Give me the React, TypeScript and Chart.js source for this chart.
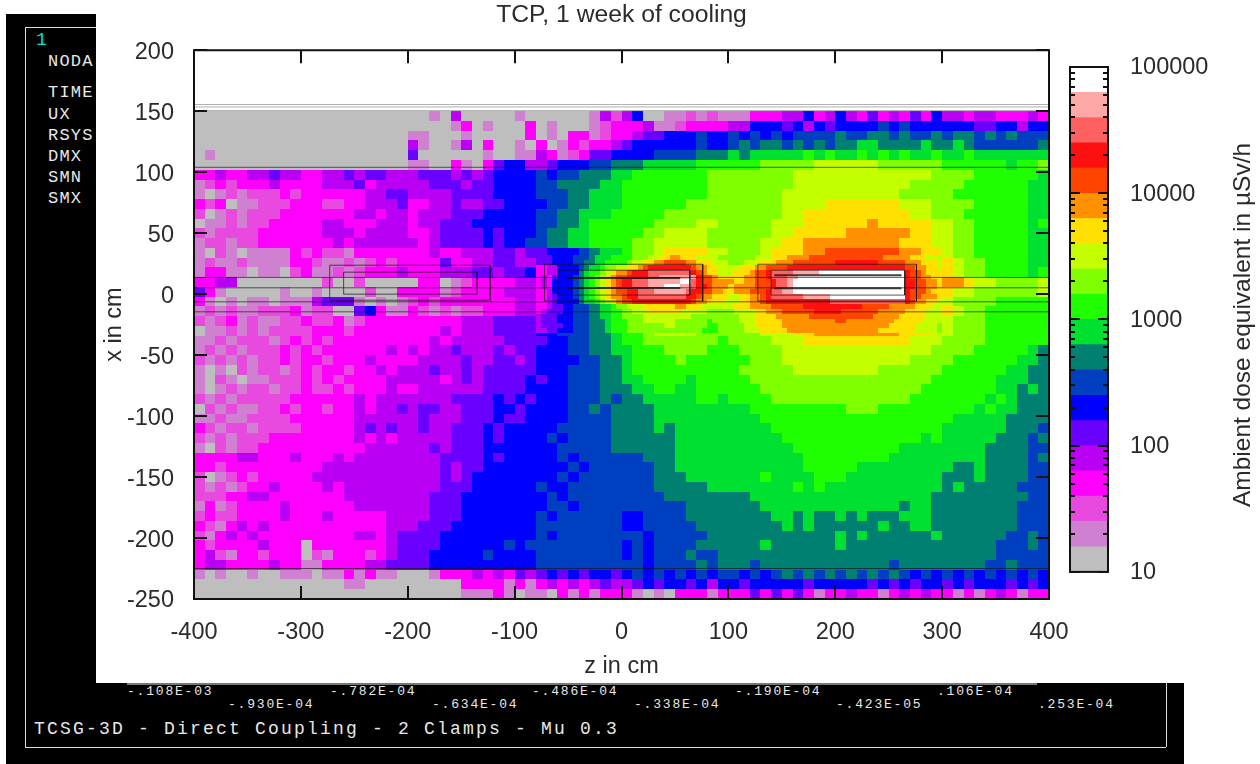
import React, { useEffect, useRef } from "react";
import { Chart, registerables } from "chart.js";
Chart.register(...registerables);

const chartTitle = "TCP, 1 week of cooling";
const xTitle = "z in cm";
const yTitle = "x in cm";
const barTitle = "Ambient dose equivalent in µSv/h";
const sideLabels = [["NODA", 61], ["TIME", 92], ["UX", 114], ["RSYS", 135], ["DMX", 156], ["SMN", 177], ["SMX", 198]] as const;
const footerTicks = [
  ["-.108E-03", 127, 691], ["-.930E-04", 228, 704], ["-.782E-04", 330, 691], ["-.634E-04", 432, 704], ["-.486E-04", 532, 691],
  ["-.338E-04", 634, 704], ["-.190E-04", 735, 691], ["-.423E-05", 836, 704], [".106E-04", 937, 691], [".253E-04", 1038, 704],
] as const;
const footerTitle = "TCSG-3D - Direct Coupling - 2 Clamps - Mu 0.3";

const levelKeys = "0123456789abcdefghij";
const levelColors = ["#bebebe", "#d080d0", "#e84ae0", "#ff00ff", "#b900f5", "#6a00ff", "#0000ff", "#0040c0", "#008070", "#00e030",
  "#20ff00", "#80ff00", "#c4ff00", "#ffe000", "#ff9000", "#ff4400", "#ff1010", "#ff6060", "#ffa8a8", "#ffffff"];
const colorEdges = [10, 15.8, 25.1, 39.8, 63.1, 100, 158, 251, 398, 631, 1000, 1585, 2512, 3981, 6310, 10000, 15849, 25119, 39811, 63096, 100000];
const barTicks = [10, 20, 30, 40, 50, 60, 70, 80, 90, 100, 200, 300, 400, 500, 600, 700, 800, 900, 1000, 2000, 3000, 4000, 5000, 6000, 7000, 8000, 9000,
  10000, 20000, 30000, 40000, 50000, 60000, 70000, 80000, 90000, 100000];

// dose class per cell: z from -400 in 10 cm steps, x from 150 down in 8 cm steps
const coarseRows = [
  "0000000000 0000000000 0010400000 1000000142 4600112121 1133344634 6435343536 4434433343",
  "0000000000 0000000000 0000130100 0301000123 3341123333 4466656465 6666767666 6665566466",
  "0000000000 0000000000 1100010000 0301033123 3455666766 7676767777 8778878778 7887878777",
  "0000000000 0000000000 4100140300 1030132334 5666666766 7878878787 8899888898 8987777778",
  "0100000000 0000000000 5000000100 1143123556 6667777888 9899999a9a 99a9a9a99a 99a9999999",
  "0000000000 0000000000 1100310356 6445666778 8899999aaa aaabbbbbcc ccccbbbbbb aaaaaa9aab",
  "3343344544 3344545544 4555454566 6676778889 9aaaaaaabb bbbbbbcccc cccccccccb bbbaaaaaa9",
  "1232333433 3344453444 4455545566 6677888899 aaaaaaaabb bbbbbbcccc cccccccbbb bbaaaaaa99",
  "1012122232 3333334455 4444555566 6677788999 aaaaaaaabb bbbbbccccc ccccccbbbb baaaaaaa99",
  "3230112223 3322334445 3344544556 6667788999 aaaaaabbbb bbbbbccccd ddddddcccb bbbaaaaa99",
  "2012122233 3333344344 3444555666 667788999a aaaabbbbbb bbbbbccddd dddddddccb bbaaaaaa99",
  "0112122333 3344333444 3445556666 6677889aaa aaabbbbccb bbbbcccddd dddedddddc cbbaaaaa9a",
  "2122223333 3344434444 3345555656 6678899aaa aabbccccbb bbbbccdddd deeeeeeddc cbbaaaaa99",
  "1221223333 3334344444 4345555656 6778899aaa abbcccccbb bbbccddeee eeeeeedddc cbbaaaaa99",
  "1021011113 2322133333 3343344455 4556667899 abbcddddcc bbbcdddeef ffffffeedd cbbaaaaa99",
  "1211211113 3211212323 3335334455 4455566789 bcdefffedc cbcddeeffg ggggggffee dcbbaaaa99",
  "1331101102 3112123334 3334445545 5666778899 bcdefggggf edccdefggh hhiiihhgfe dcbbaaaa9a",
  "3344000000 0020020000 0330123333 4455667789 cdefghhhgf eedddefghi jjjjjjjjhg eedccbbbbc",
  "5310000010 0100002003 3331233334 4455667789 cdefghiihg feeddefghi jjjjjjjjhg dccbbbbbbc",
  "3101011011 1455510101 2323333333 4455667899 bcdefgggfe dcccdefggg hhhhhhhhgf cbbbbaaaaa",
  "1212112223 1220056311 3212122333 4455667789 bccdddcccb bcddeeffff gggfffeeed dcbbaaaaaa",
  "2123121122 3223123333 3333344455 5566677899 abccccccbb bbbcdeeeee fffeeedddc cbbbaaaaaa",
  "0112121222 2333233333 3334344455 5566777889 aabccccbbb bbbcccddee eeeeeedddc cbbbaaaaaa",
  "1121222123 2323333333 3343444445 5556677889 aabbbbbbba bbbbcccddd dddddddccc bbbbaaaaaa",
  "1212122232 3233333343 4344544454 5566677889 9aaabbbbaa abbbbccccc cccccccccb bbbaaaaa98",
  "2121212232 3323334333 3444454455 4566667788 9aaaabaaaa aabbbccccc cccccccbbb baaaaaa998",
  "1010212212 3233233434 4454454555 5566677788 9aaaaaaaaa abbbbbcccc ccccbbbbbb aaaaaa9988",
  "1021011222 3232333344 4443454555 5656677788 99aaaa9aaa aabbbbbbbb bbbbbbbbba aaaaa99988",
  "1012122122 3223233343 3444444555 5666677788 899aa99aaa aaabbbbbbb bbbbbbbbaa aaaaa99898",
  "2121222223 3333343444 4444555565 6566677787 8899999aa9 aaaabbbbbb bbbbbbbaaa aaaa9a9888",
  "0212112232 3323343445 4554455566 5666677878 8889999999 99aaaaaaaa abbbaaaaaa aaa9a99888",
  "1121122223 3333344444 4544455565 5666677778 8889999999 999aaaaaaa aaaaaaaaaa a999998888",
  "3212212222 3333345454 4544555656 6666777778 8889899999 9999aaaaaa aaaaaaaaaa 9999998887",
  "2121222333 3333343434 4444555656 6667677778 8888899999 99999aaaaa aaaaaaaa9a 9999988878",
  "1021223333 3333334444 4454555666 6666777778 8888899999 999999aaaa aaaaaa9999 9999888877",
  "3333443334 3334344444 4445555656 6666767777 7788899999 9999999aaa aaaaa99999 9999888878",
  "3323333333 3344444444 4445455666 6666676777 7778899999 9999999aaa aa99999999 9889888877",
  "2012323333 3444444444 4445456666 6666767777 7778889999 999a9999aa a999999999 8889888877",
  "2121233433 3343444444 4445556666 6676677777 7778888899 999999a9a9 9999999999 8988888777",
  "2223344333 3333444444 4455566666 6667677777 7777888888 8899999999 9999999998 8888888877",
  "1312333343 3333344444 4455566666 6667767777 7777778888 8889999999 9999998998 8888888777",
  "2322333343 3343333344 4455566666 6676777777 6677778888 8888998988 9898889998 8888888777",
  "3213434333 3333333344 4555666666 6677777777 6677777888 8888898988 8888988998 8888888777",
  "2134343333 3333344345 5556666666 6676777777 7767777788 8888888888 9898888889 8888887787",
  "3233334333 0333333345 5556666667 6777777777 6767777888 8889888888 9888888888 8888877787",
  "3421332333 0213332345 5566666766 6677777777 6767778778 8888888888 8888888888 8888877777",
  "3443333433 1133334455 5566666666 6677777777 7767777878 8878888888 8888878888 8888778777",
  "1010010011 1011313110 0013334343 5456565665 6767676767 7676787878 7878787676 7676767676",
  "0000000000 0000110000 0000033331 3134343454 4565665646 6566666566 6665656566 5656665656",
  "0000000000 0000000000 0000011131 0110313133 3101033313 3353535313 3433134343 3131343133",
];

// finer dose classes round the two jaws: z from -80 in 5 cm steps, x from 32 down in 4 cm steps
const fineRows = [
  "5556666777 8999aaaabb bccddeeddd ccccbbbbbb bcccdddeee efffffffff fffffeeeee dddccc",
  "5556666778 899aaaabcc ddeeffffee dddcccbbbc ccdddeeeff ffffffgggg ggggfffffe eedddc",
  "3344666678 99abbccdde fggggggggf eeddccccdd deeffffggg gggggggggg gggggggggf feeddc",
  "3344666689 aabcdeefgg ghhhhhhhhg feddcccddd effghhhhii iiijjjjjjj jjjjjjjjjg ffeddd",
  "3435666789 abcdeffggg ghhiiiiiii gffeddddde effghhhiij jjjjjjjjjj jjjjjjjjjg ffeedd",
  "3436666789 abcdefgghh hiiiiiijjh gffeeeedde efffghhijj jjjjjjjjjj jjjjjjjjjg gffeed",
  "3436666789 abcdefgghh hiiijjjiih ggfeeedeee efffghhijj jjjjjjjjjj jjjjjjjjjg gffeed",
  "3346666789 abcdeffggh hhiiiiiihg gffeeddeee fffghhiijj jjjjjjjjjj jjjjjjjjjg fffedd",
  "3345666789 abcdeefggh hhhhhhhhgg feedddccdd eefghhhhhh iiiiijjjjj jjjjjjjjjg ffeeed",
  "3345666689 9abcdeffgg gggggggggf eedddcccdd eefggggggg ggggghhhhh hhhhhhhhhg feeddc",
  "3345566777 8899abbccc ddddddeedd dccccccddd eeeeffffff gggggggggg gfffffeeee edddcc",
  "3455566777 8899aabbcc cddddddccc ccbbbbbccc cddeeeffff ffgggggfff ffffeeeeed dddccc",
  "4555666777 8899aabbbb cccccccccb bbbbbbbbcc cddddeeeee efffffffff fffeeeeedd dddccc",
  "4555666777 8889aaabbb ccccccbbbb bbabbbbbcc cdddddeeee eeeeeeffee eeeeeeeddd ddcccc",
  "4555566777 8889aaabbb bbbbccbbbb bbaabbbbbc cdddddeeee eeeeeeeeee eeeeeedddd dccccb",
  "4455666777 8889aaabbb bbbbbbbbbb baaabbbbbc ccdddddeee eeeeeeeeee eeeedddddd dccccb",
];

const coarseOrigin = { z: -400, x: 150, dz: 10, dx: 8 };
const fineOrigin = { z: -80, x: 32, dz: 5, dx: 4 };

// outlines of the geometry in (z, x) centimetres
const fullLinesX = [104, 13.7, 5.2, -6.3, -14.5, -225];
const beamPipeX = [155.5, 153.5, 150.5];
const boxes = [
  [-273, -123, 23.7, -5], [-260, -135, 18, 0],
  [-72, 76, 24.5, -5.7], [-59.5, 64, 19.6, -0.8],
  [127.6, 276, 24.5, -5.7], [140, 265, 19.6, -0.8],
];
const jawLines = [
  [-50, 55, 13.2], [-50, 55, 5.0],
  [143, 262, 15.5], [143, 262, 4.9],
];

const parse = (rows: string[]) => rows.map((r) => r.replace(/\s/g, ""));

function cells(rows: string[], o: { z: number; x: number; dz: number; dx: number }) {
  const out: any[] = [];
  parse(rows).forEach((row, r) => {
    for (let c = 0; c < row.length; c++) {
      out.push({ x: o.z + (c + 0.5) * o.dz, y: o.x - (r + 0.5) * o.dx, level: levelKeys.indexOf(row[c]), dz: o.dz, dx: o.dx });
    }
  });
  return out;
}

const TEXT = "#2b2b2b";
const FONT_SIZE = 23.5;
const font = { family: '"Liberation Sans"', size: FONT_SIZE };

const heatPlugin = {
  id: "heatCells",
  beforeDatasetsDraw(chart: any) {
    const { ctx, scales, chartArea: a } = chart;
    ctx.save();
    ctx.beginPath();
    ctx.rect(a.left, a.top, a.width, a.height);
    ctx.clip();
    chart.data.datasets.forEach((ds: any) => {
      if (!ds.isHeat) return;
      ds.data.forEach((p: any) => {
        const x0 = Math.round(scales.x.getPixelForValue(p.x - p.dz / 2));
        const x1 = Math.round(scales.x.getPixelForValue(p.x + p.dz / 2));
        const y0 = Math.round(scales.y.getPixelForValue(p.y + p.dx / 2));
        const y1 = Math.round(scales.y.getPixelForValue(p.y - p.dx / 2));
        ctx.fillStyle = levelColors[p.level];
        ctx.fillRect(x0, y0, x1 - x0, y1 - y0);
      });
    });
    ctx.restore();
  },
  afterDraw(chart: any) {
    const { ctx, scales, chartArea: a } = chart;
    ctx.save();
    ctx.strokeStyle = "#111";
    ctx.lineWidth = 2;
    ctx.beginPath();
    scales.x.ticks.forEach((t: any) => {
      const p = Math.round(scales.x.getPixelForValue(t.value));
      ctx.moveTo(p, a.bottom); ctx.lineTo(p, a.bottom - 13);
      ctx.moveTo(p, a.top); ctx.lineTo(p, a.top + 13);
    });
    scales.y.ticks.forEach((t: any) => {
      const p = Math.round(scales.y.getPixelForValue(t.value));
      ctx.moveTo(a.left, p); ctx.lineTo(a.left + 13, p);
      ctx.moveTo(a.right, p); ctx.lineTo(a.right - 13, p);
    });
    ctx.stroke();
    ctx.strokeRect(a.left, a.top, a.width, a.height);
    ctx.restore();
  },
};

const barPlugin = {
  id: "barMarks",
  afterDraw(chart: any) {
    const { ctx, scales, chartArea: a } = chart;
    ctx.save();
    ctx.strokeStyle = "#111";
    ctx.lineWidth = 2;
    ctx.strokeRect(a.left, a.top, a.width, a.height);
    barTicks.forEach((v) => {
      const major = Number.isInteger(Math.log10(v));
      const len = major ? 10 : 5;
      const p = Math.round(scales.y.getPixelForValue(v));
      ctx.beginPath();
      ctx.moveTo(a.left, p); ctx.lineTo(a.left + len, p);
      ctx.moveTo(a.right, p); ctx.lineTo(a.right - len, p);
      ctx.stroke();
    });
    ctx.fillStyle = TEXT;
    ctx.font = `24.5px "Liberation Sans"`;
    ctx.textAlign = "center";
    ctx.textBaseline = "middle";
    ctx.translate(183, 325);
    ctx.rotate(-Math.PI / 2);
    ctx.fillText(barTitle, 0, 0);
    ctx.restore();
  },
};

const abs = (l: number, t: number, w: number, h: number, bg: string): React.CSSProperties => ({ position: "absolute", left: l, top: t, width: w, height: h, background: bg });
const mono = (size: number, spacing: number, color = "#e8e8e8"): React.CSSProperties => ({
  position: "absolute", fontFamily: '"Liberation Mono"', fontSize: size, letterSpacing: spacing, color, whiteSpace: "pre", lineHeight: "1",
});

export default function App() {
  const mainRef = useRef<HTMLCanvasElement>(null);
  const barRef = useRef<HTMLCanvasElement>(null);
  useEffect(() => {
    const lineSet = (pts: number[][], color: string, width: number) => ({
      type: "scatter", showLine: true, data: pts.map(([x, y]) => ({ x, y })), borderColor: color, borderWidth: width, pointRadius: 0, fill: false, tension: 0,
    });
    const datasets: any[] = [
      ...boxes.map(([z0, z1, x0, x1]) => lineSet([[z0, x0], [z1, x0], [z1, x1], [z0, x1], [z0, x0]], "rgba(20,20,20,0.7)", 1)),
      ...jawLines.map(([z0, z1, x]) => lineSet([[z0, x], [z1, x]], "rgba(20,20,20,0.8)", 2)),
      ...fullLinesX.map((x) => lineSet([[-400, x], [400, x]], "rgba(20,20,20,0.65)", 1)),
      ...beamPipeX.map((x) => lineSet([[-400, x], [400, x]], "#b0b0b0", 1)),
      { label: "coarse", isHeat: true, data: cells(coarseRows, coarseOrigin), pointRadius: 0 },
      { label: "fine", isHeat: true, data: cells(fineRows, fineOrigin), pointRadius: 0 },
    ];
    const main = new Chart(mainRef.current!, {
      type: "scatter",
      data: { datasets },
      plugins: [heatPlugin],
      options: {
        animation: false, responsive: false,
        layout: { padding: { left: 100, right: 211, top: 0, bottom: 0 } },
        plugins: {
          legend: { display: false }, tooltip: { enabled: false },
          title: { display: true, text: chartTitle, color: TEXT, font: { family: font.family, size: 24.7, weight: "normal" }, fullSize: false, padding: { top: 0.6, bottom: 20 } },
        },
        scales: {
          x: {
            type: "linear", min: -400, max: 400,
            ticks: { stepSize: 100, color: TEXT, font, padding: 11, maxRotation: 0 },
            grid: { display: false }, border: { display: false },
            title: { display: true, text: xTitle, color: TEXT, font, padding: { top: 0, bottom: 83 } },
            afterFit(s: any) { s.height = 165; },
          },
          y: {
            type: "linear", min: -250, max: 200,
            ticks: { stepSize: 50, color: TEXT, font, padding: 12, labelOffset: 2 },
            grid: { display: false }, border: { display: false },
            title: { display: true, text: yTitle, color: TEXT, font, padding: 0 },
            afterFit(s: any) { s.width = 94; },
          },
        },
      } as any,
    } as any);
    const bar = new Chart(barRef.current!, {
      type: "bar",
      data: {
        labels: ["dose"],
        datasets: levelColors.map((c, i) => ({ data: [[colorEdges[i], colorEdges[i + 1]]], backgroundColor: c, grouped: false, barPercentage: 1, categoryPercentage: 1 })),
      },
      plugins: [barPlugin],
      options: {
        animation: false, responsive: false,
        layout: { autoPadding: false, padding: { left: 10, right: 0, top: 67, bottom: 8 } },
        plugins: { legend: { display: false }, tooltip: { enabled: false } },
        scales: {
          x: { display: false },
          y: {
            type: "logarithmic", position: "right", min: 10, max: 100000,
            grid: { display: false }, border: { display: false },
            afterBuildTicks(s: any) { s.ticks = barTicks.map((value) => ({ value })); },
            ticks: {
              color: TEXT, font, padding: 14, autoSkip: false, maxRotation: 0, labelOffset: 1,
              callback: (v: any) => (Number.isInteger(Math.log10(v)) ? String(v) : ""),
            },
            afterFit(s: any) { s.width = 152; },
          },
        },
      } as any,
    } as any);
    return () => { main.destroy(); bar.destroy(); };
  }, []);

  return (
    <div style={{ position: "fixed", left: 0, top: 0, width: 1260, height: 764, background: "#fff", overflow: "hidden" }}>
      <div style={abs(6, 14, 90, 750, "#000")} />
      <div style={abs(6, 683, 1178, 81, "#000")} />
      <div style={abs(25, 27, 71, 1, "#ddd")} />
      <div style={abs(25, 27, 1, 720, "#ddd")} />
      <div style={abs(25, 747, 1141, 1, "#ddd")} />
      <div style={abs(1166, 683, 1, 64, "#ddd")} />
      <div style={abs(127, 683, 910, 2, "#777")} />
      <div style={{ ...mono(18, 0, "#00e0e0"), left: 36, top: 31 }}>1</div>
      {sideLabels.map(([t, y]) => (
        <div key={t} style={{ ...mono(17, 1.2), left: 48, top: y - 8 }}>{t}</div>
      ))}
      {footerTicks.map(([t, x, y]) => (
        <div key={t} style={{ ...mono(13, 1.8), left: x, top: y - 6 }}>{t}</div>
      ))}
      <div style={{ ...mono(18, 2.2), left: 34, top: 720 }}>{footerTitle}</div>
      <canvas ref={mainRef} width={1260} height={764} style={{ position: "absolute", left: 0, top: 0 }} />
      <canvas ref={barRef} width={200} height={600} style={{ position: "absolute", left: 1060, top: 0, width: 200, height: 600 }} />
    </div>
  );
}
